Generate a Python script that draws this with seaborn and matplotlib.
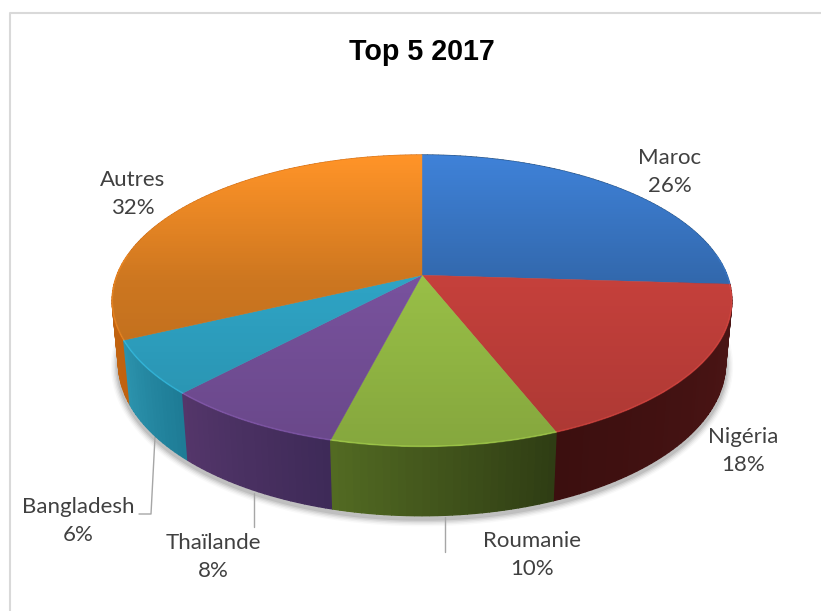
import numpy as np
import matplotlib
matplotlib.use("Agg")
import matplotlib.pyplot as plt
from matplotlib.colors import to_rgb
from matplotlib.path import Path
from matplotlib.transforms import Transform
import seaborn as sns

title = "Top 5 2017"
categories = ["Maroc", "Nigéria", "Roumanie", "Thaïlande", "Bangladesh", "Autres"]
values = [26, 18, 10, 8, 6, 32]
top_colors = ["#3F82D8", "#F5504A", "#BEEE58", "#9666C4", "#3ACCF5", "#FF9428"]
side_left = ["#2A5585", "#3C0F0F", "#526A22", "#54366A", "#2C93AD", "#D06E18"]
side_right = ["#244A75", "#4E1616", "#2F3D14", "#3E2A58", "#1E7C96", "#C0620F"]
label_xy = [(670, 172), (743, 451), (532, 555), (213, 557), (78, 521), (133, 194)]
leaders = [[(155, 437), (151, 514), (139, 514)], [(254, 493), (254, 527)], [(445, 517), (445, 552)]]

sns.set_theme(style="white")
plt.rcParams["font.family"] = ["Lato", "DejaVu Sans"]
top_pal = sns.color_palette(top_colors)


class PieView(Transform):
    """Perspective view of the unit disc, in pixels of the figure."""
    input_dims = output_dims = 2
    is_affine = False

    def __init__(self, a, c, h, k):
        super().__init__()
        self.a, self.c, self.h, self.k = a, c, h, k

    def transform_non_affine(self, xy):
        xy = np.asarray(xy, float)
        d = 1 + self.k * xy[:, 1]
        return np.column_stack([422 + self.a * xy[:, 0] / d, self.c - self.h * xy[:, 1] / d])


top_view = PieView(305, 275.2, 141.2, 0.175)
bottom_view = PieView(299, 337, 148, 0.172)


def rim(view, theta):
    return view.transform_non_affine(np.column_stack([np.sin(theta), np.cos(theta)]))


fig = plt.figure(figsize=(8.21, 6.11), dpi=100, facecolor="white")
ax = fig.add_axes([0, 0, 1, 1])

# top face
wedges, _ = ax.pie(values, colors=top_pal, startangle=90, counterclock=False)
for w, col in zip(wedges, top_pal):
    w.set_transform(top_view + ax.transData)
    w.set_zorder(5)
    w.set_edgecolor(col)
    w.set_linewidth(0.3)

fractions = np.cumsum([0] + values) / sum(values)

# soft shadow under the disc
full = np.linspace(0, 2 * np.pi, 361)
for lw, al in zip([11, 9, 7, 5, 3], [0.025, 0.04, 0.05, 0.07, 0.09]):
    pts = rim(bottom_view, full)
    ax.plot(pts[:, 0], pts[:, 1] + 3, color="black", lw=lw, alpha=al, zorder=1)

# side wall, back strips first; angles run right to left along the front
strips = []
for i, v in enumerate(values):
    n = max(3, v * 3)
    th = 2 * np.pi * np.linspace(fractions[i], fractions[i + 1], n + 1)
    c0, c1 = np.array(to_rgb(side_left[i])), np.array(to_rgb(side_right[i]))
    for j in range(n):
        u = 1 - j / (n - 1)
        strips.append((np.cos(th[j]), th[j], th[j + 1], tuple(c0 * (1 - u) + c1 * u)))
for _, t0, t1, col in sorted(strips, key=lambda s: -s[0]):
    tt = np.linspace(t0, t1, 4)
    poly = np.vstack([rim(top_view, tt), rim(bottom_view, tt)[::-1]])
    ax.fill(poly[:, 0], poly[:, 1], color=col, lw=1.0, zorder=2)

# vertical shading of the top face
rows = np.linspace(155, 448, 256)
ramp = np.zeros((256, 1, 4))
ramp[:, 0, 3] = np.interp(rows, [155, 280, 448], [0.0, 0.20, 0.30])
im = ax.imshow(ramp, extent=(0, 821, 448, 155), aspect="auto", zorder=6, interpolation="bilinear")
im.set_clip_path(Path.unit_circle(), transform=top_view + ax.transData)

# light bevel along the front rim
for i, col in enumerate(top_pal):
    th = 2 * np.pi * np.linspace(fractions[i], fractions[i + 1], 80)
    th = th[np.cos(th) < 0.15]
    if len(th) > 1:
        pts = rim(top_view, th)
        ax.plot(pts[:, 0], pts[:, 1], color=col, lw=1.2, alpha=0.4, zorder=7)

ax.set_aspect("auto")
ax.set_xlim(0, 821)
ax.set_ylim(611, 0)
ax.axis("off")

# chart frame (only top and left fall inside the crop)
ax.plot([10, 10, 821], [611, 13, 13], color="#D9D9D9", lw=1.5, zorder=1, clip_on=False)

for seg in leaders:
    xs, ys = zip(*seg)
    ax.plot(xs, ys, color="#A6A6A6", lw=1.0, zorder=1)

for cat, v, (x, y) in zip(categories, values, label_xy):
    ax.text(x, y, f"{cat}\n{v}%", ha="center", va="center", fontsize=16, color="#404040",
            linespacing=1.55, zorder=8)

ax.text(422, 52, title, ha="center", va="center", fontsize=20.6, fontweight="bold",
        family=["Liberation Sans"], color="black", zorder=8)

fig.savefig("out.png", dpi=100, facecolor="white")
